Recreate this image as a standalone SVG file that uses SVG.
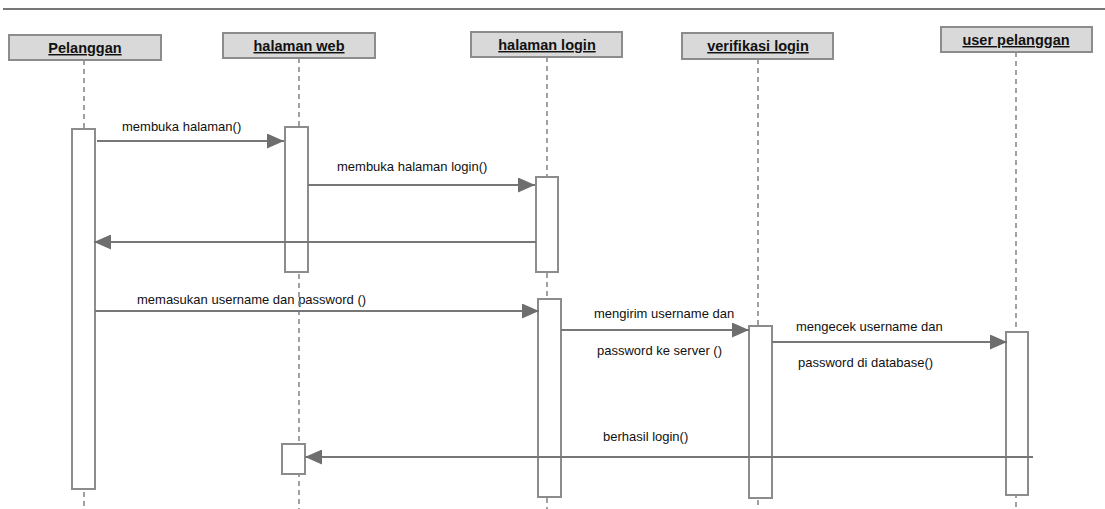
<svg xmlns="http://www.w3.org/2000/svg" width="1105" height="509" viewBox="0 0 1105 509">
<style>
.hd{fill:#d9d9d9;stroke:#8c8c8c;stroke-width:2}
.ht{font-family:"Liberation Sans",Arial,sans-serif;font-size:14.5px;font-weight:bold;fill:#111;text-anchor:middle;text-decoration:underline}
.ll{stroke:#8a8a8a;stroke-width:1.6;stroke-dasharray:5,4;fill:none}
.act{fill:#fff;stroke:#8c8c8c;stroke-width:2}
.msg{stroke:#777;stroke-width:2;fill:none}
.lb{font-family:"Liberation Sans",Arial,sans-serif;font-size:13px;fill:#111}
</style>
<defs>
<marker id="ah" viewBox="0 0 17 15" refX="17" refY="7.5" markerWidth="17" markerHeight="15" markerUnits="userSpaceOnUse" orient="auto">
<path d="M0,0 L17,7.5 L0,15 Z" fill="#6e6e6e"/>
</marker>
</defs>
<rect width="1105" height="509" fill="#fff"/>
<line x1="3" y1="9" x2="1105" y2="9" stroke="#777" stroke-width="2"/>
<g id="labels">
<text class="lb" x="122" y="131">membuka halaman()</text>
<text class="lb" x="337" y="171">membuka halaman login()</text>
<text class="lb" x="137" y="304">memasukan username dan password ()</text>
<text class="lb" x="594" y="318">mengirim username dan</text>
<text class="lb" x="597" y="355">password ke server ()</text>
<text class="lb" x="796" y="331">mengecek username dan</text>
<text class="lb" x="798" y="367">password di database()</text>
<text class="lb" x="603" y="441">berhasil login()</text>
</g>
<g id="lifelines">
<line class="ll" x1="84" y1="60" x2="84" y2="509"/>
<line class="ll" x1="299" y1="58" x2="299" y2="509"/>
<line class="ll" x1="547" y1="57" x2="547" y2="509"/>
<line class="ll" x1="758" y1="59" x2="758" y2="509"/>
<line class="ll" x1="1016" y1="52" x2="1016" y2="509"/>
</g>
<g id="pelanggan">
<rect class="hd" x="9" y="35" width="152" height="25"/>
<text class="ht" x="85" y="53">Pelanggan</text>
<rect class="act" x="72" y="129" width="23" height="360"/>
</g>
<g id="halaman-web">
<rect class="hd" x="223" y="33" width="152" height="25"/>
<text class="ht" x="299" y="51">halaman web</text>
<rect class="act" x="285" y="127" width="23" height="145"/>
<rect class="act" x="282" y="444" width="23" height="30"/>
</g>
<g id="halaman-login">
<rect class="hd" x="471" y="32" width="151" height="25"/>
<text class="ht" x="547" y="50">halaman login</text>
<rect class="act" x="536" y="177" width="22" height="95"/>
<rect class="act" x="538" y="299" width="23" height="198"/>
</g>
<g id="verifikasi-login">
<rect class="hd" x="682" y="33" width="151" height="26"/>
<text class="ht" x="758" y="51">verifikasi login</text>
<rect class="act" x="749" y="326" width="23" height="172"/>
</g>
<g id="user-pelanggan">
<rect class="hd" x="941" y="27" width="151" height="25"/>
<text class="ht" x="1016" y="45">user pelanggan</text>
<rect class="act" x="1006" y="332" width="22" height="163"/>
</g>
<g id="connectors">
<line class="msg" x1="97" y1="141" x2="284" y2="141" marker-end="url(#ah)"/>
<line class="msg" x1="308" y1="185" x2="535" y2="185" marker-end="url(#ah)"/>
<line class="msg" x1="536" y1="242" x2="94" y2="242" marker-end="url(#ah)"/>
<line class="msg" x1="95" y1="311" x2="539" y2="311" marker-end="url(#ah)"/>
<line class="msg" x1="561" y1="330" x2="749" y2="330" marker-end="url(#ah)"/>
<line class="msg" x1="772" y1="342" x2="1007" y2="342" marker-end="url(#ah)"/>
<line class="msg" x1="1033" y1="457" x2="305" y2="457" marker-end="url(#ah)"/>
</g>
</svg>
